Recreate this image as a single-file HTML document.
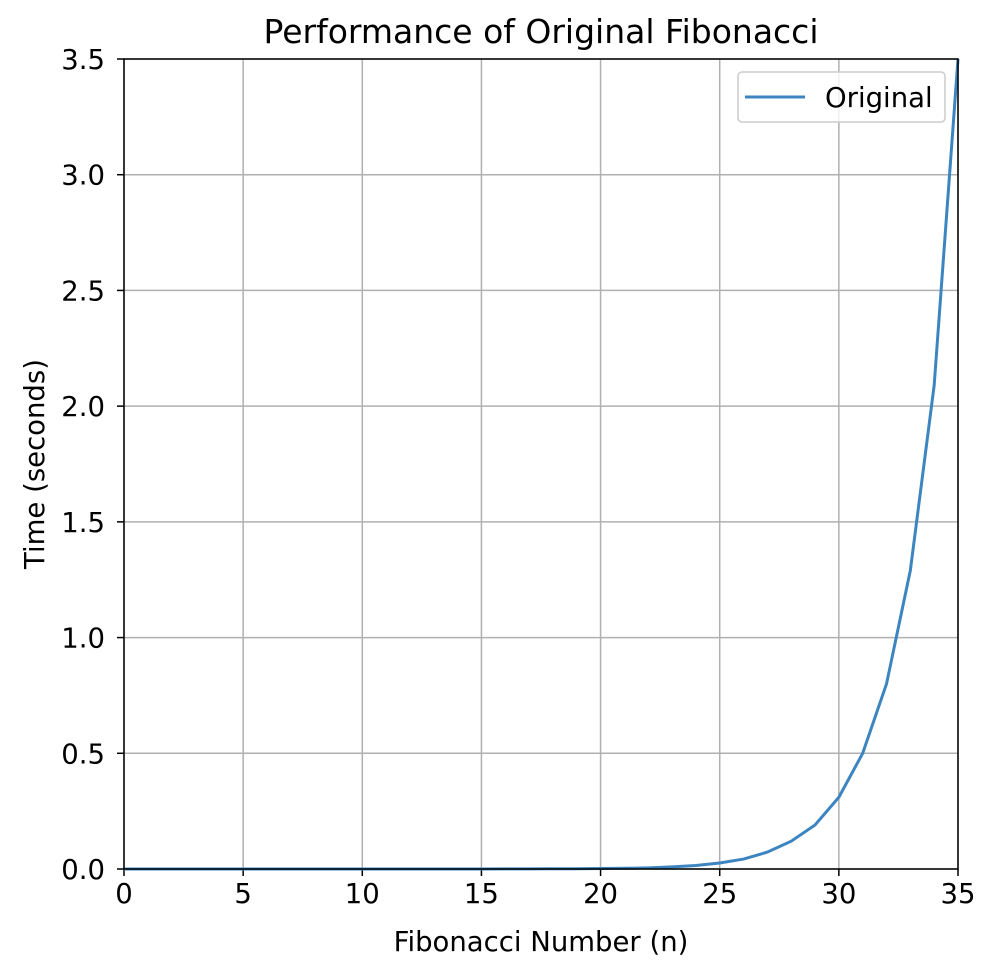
<!DOCTYPE html>
<html><head><meta charset="utf-8"><style>
body{margin:0;background:#fff;}
svg text{font-family:"DejaVu Sans","Liberation Sans",sans-serif;fill:#000;}
</style></head><body>
<svg id="chart" width="986" height="974" viewBox="0 0 986 974">
<rect x="0" y="0" width="986" height="974" fill="#fff"/>
<g id="grid"></g>
<g id="ticks"></g>
<path id="line" fill="none" stroke="#3d85c0" stroke-width="3"/>
<rect x="124" y="59" width="834" height="810" fill="none" stroke="#000" stroke-width="1.5"/>
<text x="541" y="43" font-size="33" text-anchor="middle">Performance of Original Fibonacci</text>
<text x="541" y="951" font-size="27.5" text-anchor="middle">Fibonacci Number (n)</text>
<text x="44" y="464" font-size="27.5" text-anchor="middle" transform="rotate(-90 44 464)">Time (seconds)</text>
<g>
<rect x="738" y="72" width="207" height="50" rx="4" fill="#fff" fill-opacity="0.8" stroke="#ccc" stroke-width="1.5"/>
<line x1="745" y1="97" x2="805" y2="97" stroke="#3d85c0" stroke-width="3"/>
<text x="825" y="107" font-size="27.5">Original</text>
</g>
</svg>
<script>
const nValues=[0,1,2,3,4,5,6,7,8,9,10,11,12,13,14,15,16,17,18,19,20,21,22,23,24,25,26,27,28,29,30,31,32,33,34,35];
const timeValues=[0,0,0,0,0,0,0,0,0,0,0,0,0,0,0,0.0002,0.0003,0.0005,0.0008,0.0012,0.002,0.003,0.005,0.009,0.015,0.026,0.043,0.073,0.12,0.19,0.31,0.5,0.8,1.29,2.09,3.5];
const xTicks=[0,5,10,15,20,25,30,35];
const yTicks=[0,0.5,1,1.5,2,2.5,3,3.5];
const yTickLabels=["0.0","0.5","1.0","1.5","2.0","2.5","3.0","3.5"];
const X0=124,X1=958,Y0=869,Y1=59,xMax=35,yMax=3.5;
function xs(v){return X0+(X1-X0)*v/xMax;}
function ys(v){return Y0-(Y0-Y1)*v/yMax;}
const NS="http://www.w3.org/2000/svg";
const grid=document.getElementById('grid'),ticks=document.getElementById('ticks');
function mk(tag,attrs,parent){const e=document.createElementNS(NS,tag);for(const k in attrs)e.setAttribute(k,attrs[k]);parent.appendChild(e);return e;}
xTicks.forEach(t=>{const x=xs(t);
const g=mk('line',{x1:x,x2:x,y1:Y1,y2:Y0,stroke:'#b0b0b0','stroke-width':1.5},grid);


const tk=mk('line',{x1:x,x2:x,y1:Y0,y2:Y0+7,stroke:'#000','stroke-width':1.5},ticks);


const tx=mk('text',{x:x,y:Y0+34,'font-size':27.5,'text-anchor':'middle'},ticks);tx.textContent=t;


});
yTicks.forEach((t,i)=>{const y=ys(t);
const g=mk('line',{x1:X0,x2:X1,y1:y,y2:y,stroke:'#b0b0b0','stroke-width':1.5},grid);


const tk=mk('line',{x1:X0-7,x2:X0,y1:y,y2:y,stroke:'#000','stroke-width':1.5},ticks);


const tx=mk('text',{x:X0-19,y:y+10,'font-size':27.5,'text-anchor':'end'},ticks);tx.textContent=yTickLabels[i];


});
document.getElementById('line').setAttribute('d',nValues.map((n,i)=>(i?'L':'M')+xs(n).toFixed(2)+','+ys(timeValues[i]).toFixed(2)).join(''));
</script>
</body></html>
